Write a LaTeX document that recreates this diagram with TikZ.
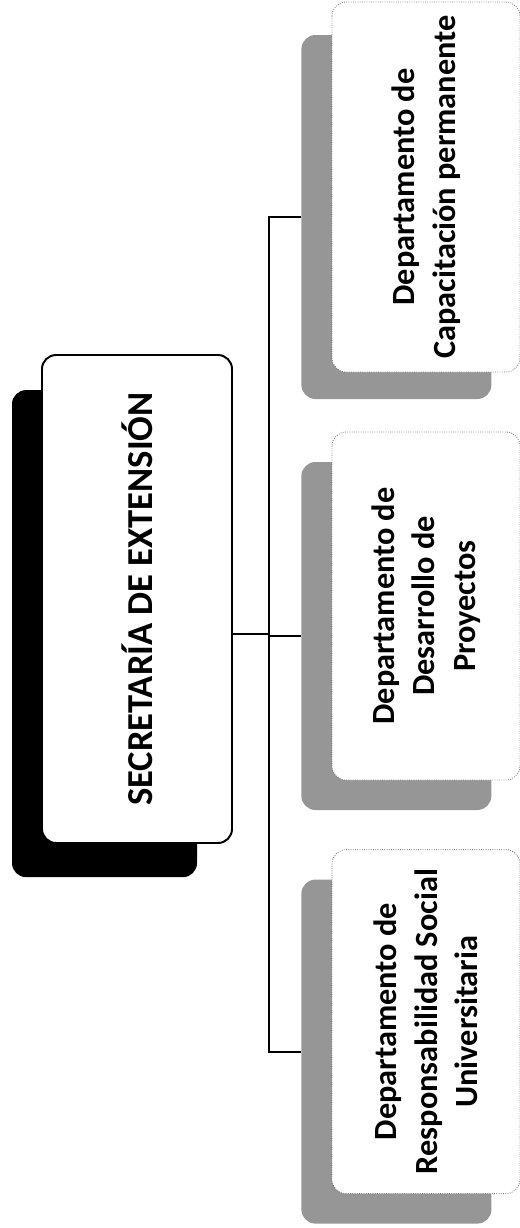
\documentclass[tikz,border=0pt]{standalone}
\usepackage{fontspec}
\setmainfont{Carlito}
\usetikzlibrary{positioning, calc}
\definecolor{myshade}{RGB}{150,150,150}
\definecolor{myedge}{RGB}{120,120,120}
\tikzset{
  mainbox/.style={rectangle, rotate=90, draw=black, fill=white,
    line width=1.4pt, rounded corners=10pt, minimum width=12.2cm,
    minimum height=4.75cm, align=center,
    font=\fontsize{26}{31}\selectfont\bfseries},
  mainshadow/.style={rectangle, rotate=90, fill=black,
    rounded corners=10pt, minimum width=12.175cm, minimum height=4.625cm},
  deptbox/.style={rectangle, rotate=90, draw=myedge, fill=white,
    line width=0.6pt, densely dotted, rounded corners=10pt,
    minimum height=4.7cm, align=center,
    font=\fontsize{23}{29}\selectfont\bfseries},
  deptshadow/.style={rectangle, rotate=90, fill=myshade,
    rounded corners=10pt, minimum height=4.75cm},
  conn/.style={line width=1.3pt, color=black}
}
\begin{document}
\begin{tikzpicture}
  \useasboundingbox (0,0) rectangle (12.975,-30.7);

  % shadows
  \node[mainshadow] (mainsh) at (2.6125,-15.84) {};
  \node[deptshadow, minimum width=9.1cm] (d1sh) at (9.91,-5.425) {};
  \node[deptshadow, minimum width=8.7cm] (d2sh) at (9.91,-15.9) {};
  \node[deptshadow, minimum width=8.6cm] (d3sh) at (9.91,-26.29) {};

  % boxes
  \node[mainbox] (main) at (3.425,-14.975) {SECRETARÍA DE EXTENSIÓN};
  \node[deptbox, minimum width=9.25cm] (d1) at (10.65,-4.675)
    {Departamento de\\Capacitación permanente};
  \node[deptbox, minimum width=8.7cm] (d2) at (10.65,-15.15)
    {Departamento de\\Desarrollo de\\Proyectos};
  \node[deptbox, minimum width=8.6cm] (d3) at (10.65,-25.54)
    {Departamento de\\Responsabilidad Social\\Universitaria};

  % connectors
  \coordinate (bus) at (6.725,-15.85);
  \draw[conn] (main.south |- bus) -- (bus);
  \draw[conn] (d1sh.north) -| (bus) |- (d3sh.north);
  \draw[conn] (bus |- d2sh.north) -- (d2sh.north);
\end{tikzpicture}
\end{document}
